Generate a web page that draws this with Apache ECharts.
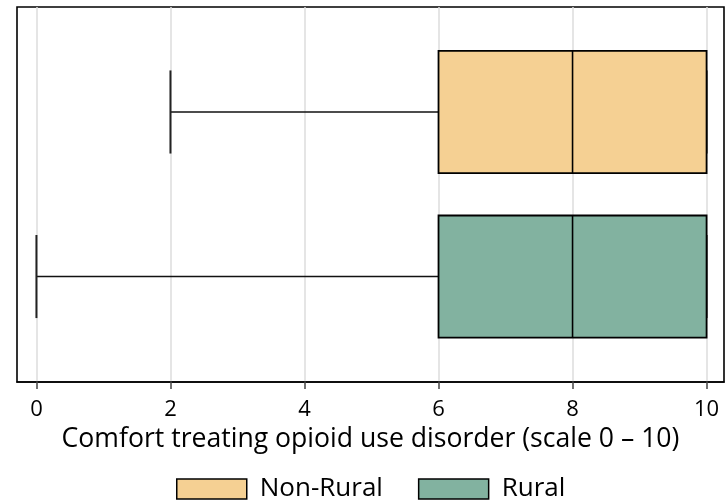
<!DOCTYPE html>
<html><head><meta charset="utf-8">
<script src="https://cdn.jsdelivr.net/npm/echarts@6/dist/echarts.min.js"></script>
<style>html,body{margin:0;padding:0;background:#fff}#c{width:727px;height:502px}</style>
</head><body><div id="c"></div>
<script>
// ---- data ----
const groups = ['Non-Rural', 'Rural'];
const groupPos = [1, 0];           // vertical slot (Rural bottom, Non-Rural top)
const mins    = [2, 0];
const q1s     = [6, 6];
const medians = [8, 8];
const q3s     = [10, 10];
const maxs    = [10, 10];
const tickValues = [0, 2, 4, 6, 8, 10];
const colors = ['#F5D093', '#82B2A0'];
const xTitle = 'Comfort treating opioid use disorder (scale 0 \u2013 10)';

const FONT = '"Open Sans", sans-serif';
const BOX_H = 0.742, CAP_H = 0.505;

function renderItem(params, api) {
  const y = api.value(0);
  const lo = api.value(1), q1 = api.value(2), med = api.value(3), q3 = api.value(4), hi = api.value(5);
  const pLo = api.coord([lo, y]), pQ1 = api.coord([q1, y]), pMed = api.coord([med, y]),
        pQ3 = api.coord([q3, y]), pHi = api.coord([hi, y]);
  const bh = api.size([0, BOX_H])[1], ch = api.size([0, CAP_H])[1];
  const cy = pQ1[1];
  const fill = api.visual('color');
  const children = [];
  children.push({type: 'line', shape: {x1: pLo[0], y1: cy, x2: pQ1[0], y2: cy}, style: {stroke: '#111', lineWidth: 1.6}});
  children.push({type: 'line', shape: {x1: pQ3[0], y1: cy, x2: pHi[0], y2: cy}, style: {stroke: '#111', lineWidth: 1.6}});
  children.push({type: 'line', shape: {x1: pLo[0], y1: cy - ch / 2, x2: pLo[0], y2: cy + ch / 2}, style: {stroke: '#222', lineWidth: 2}});
  children.push({type: 'line', shape: {x1: pHi[0], y1: cy - ch / 2, x2: pHi[0], y2: cy + ch / 2}, style: {stroke: '#222', lineWidth: 2}});
  children.push({type: 'rect', shape: {x: pQ1[0], y: cy - bh / 2, width: pQ3[0] - pQ1[0], height: bh},
    style: {fill: fill, stroke: '#000', lineWidth: 1.8}});
  children.push({type: 'line', shape: {x1: pMed[0], y1: cy - bh / 2, x2: pMed[0], y2: cy + bh / 2}, style: {stroke: '#000', lineWidth: 1.6}});
  return {type: 'group', children: children};
}

const series = groups.map((g, i) => ({
  name: g, type: 'custom', z: 10,
  renderItem: renderItem,
  itemStyle: {color: colors[i]},
  encode: {x: [1, 2, 3, 4, 5], y: 0},
  data: [[groupPos[i], mins[i], q1s[i], medians[i], q3s[i], maxs[i]]]
}));

const chart = echarts.init(document.getElementById('c'), null, {renderer: 'canvas'});
chart.setOption({
  animation: false,
  textStyle: {fontFamily: FONT},
  grid: {left: 17, right: 3, top: 7, bottom: 120, show: true, borderColor: '#000', borderWidth: 1.6, backgroundColor: '#fff'},
  xAxis: {
    type: 'value', min: -0.29, max: 10.26,
    axisLine: {show: true, onZero: false, lineStyle: {color: '#000', width: 1.6}},
    splitLine: {show: true, lineStyle: {color: '#dcdcdc', width: 1.5}},
    axisTick: {show: true, customValues: tickValues, length: 7, lineStyle: {color: '#444', width: 1.5}},
    axisLabel: {customValues: tickValues, margin: 17, fontSize: 22, color: '#000', fontFamily: FONT},
    name: xTitle, nameLocation: 'middle', nameGap: 42,
    nameTextStyle: {fontSize: 26.6, color: '#000', fontFamily: FONT}
  },
  yAxis: {type: 'value', min: -0.641, max: 1.638, show: false},
  legend: {
    data: groups, left: 171, top: 471, itemWidth: 70, itemHeight: 20, itemGap: 35,
    icon: 'rect',
    itemStyle: {borderColor: '#000', borderWidth: 1.5},
    textStyle: {fontSize: 26, color: '#000', fontFamily: FONT, padding: [0, 0, 0, 8]}
  },
  series: series
});
</script></body></html>
